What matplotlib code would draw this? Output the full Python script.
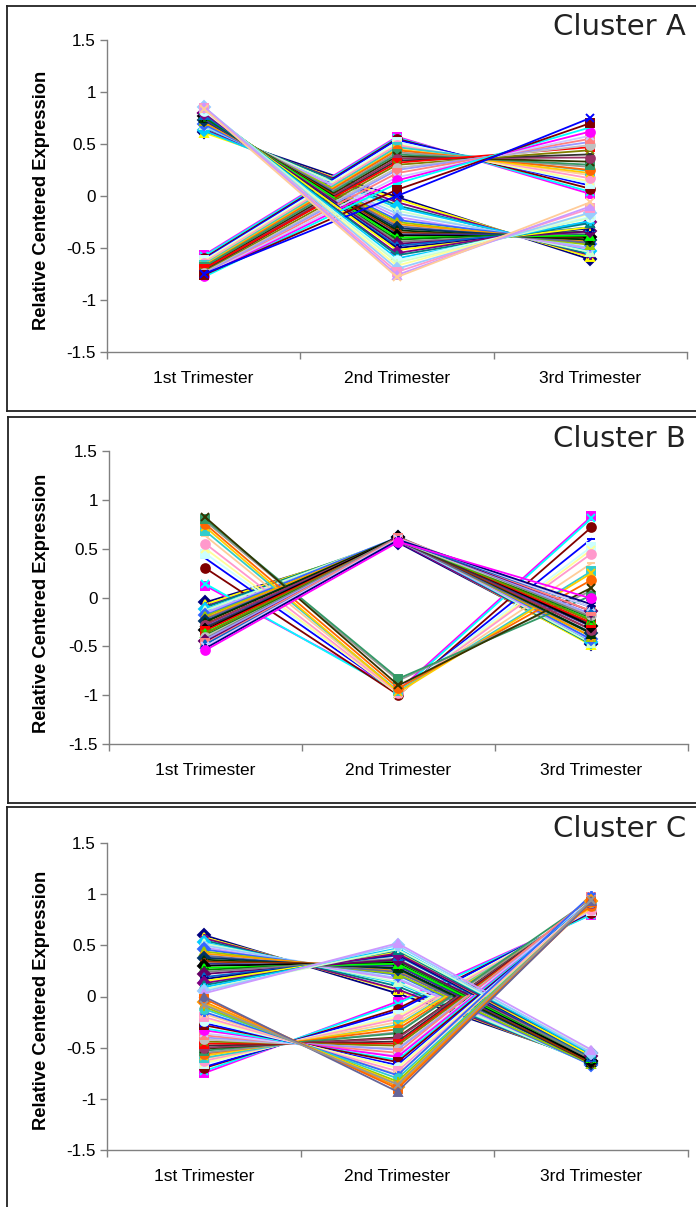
import matplotlib
matplotlib.use("Agg")
import matplotlib.pyplot as plt
from matplotlib.lines import Line2D
import numpy as np

# ---------------- data ----------------
trimesters = ["1st Trimester", "2nd Trimester", "3rd Trimester"]
y_ticks = [-1.5, -1, -0.5, 0, 0.5, 1, 1.5]
y_tick_labels = ["-1.5", "-1", "-0.5", "0", "0.5", "1", "1.5"]
cluster_names = ["Cluster A", "Cluster B", "Cluster C"]

# Cluster A - genes falling from 1st trimester
A_fall_t1 = [0.62, 0.61, 0.64, 0.66, 0.63, 0.68, 0.67, 0.70, 0.69, 0.72, 0.71, 0.74, 0.73, 0.75, 0.76, 0.74, 0.77,
             0.78, 0.76, 0.79, 0.80, 0.78, 0.81, 0.82, 0.80, 0.83, 0.84, 0.82, 0.85, 0.84, 0.86, 0.85, 0.86, 0.84]
A_fall_t2 = [-0.01, -0.03, -0.06, -0.09, -0.11, -0.14, -0.17, -0.20, -0.23, -0.25, -0.27, -0.29, -0.31, -0.33, -0.35,
             -0.37, -0.38, -0.40, -0.42, -0.44, -0.46, -0.48, -0.50, -0.52, -0.55, -0.57, -0.60, -0.62, -0.64, -0.67,
             -0.70, -0.73, -0.76, -0.78]
A_fall_t3 = [-0.61, -0.59, -0.57, -0.56, -0.53, -0.54, -0.50, -0.51, -0.46, -0.47, -0.44, -0.45, -0.42, -0.42, -0.40,
             -0.37, -0.39, -0.38, -0.34, -0.35, -0.34, -0.30, -0.31, -0.30, -0.25, -0.26, -0.24, -0.20, -0.21, -0.17,
             -0.16, -0.12, -0.10, -0.06]
# Cluster A - genes rising from 1st trimester
A_rise_t1 = [-0.57, -0.58, -0.60, -0.61, -0.62, -0.63, -0.64, -0.65, -0.66, -0.67, -0.68, -0.69, -0.68, -0.70, -0.71,
             -0.72, -0.70, -0.73, -0.74, -0.75, -0.76, -0.76, -0.77, -0.78, -0.76, -0.75]
A_rise_t2 = [0.57, 0.56, 0.55, 0.54, 0.52, 0.50, 0.49, 0.47, 0.47, 0.45, 0.44, 0.42, 0.40, 0.38, 0.36, 0.34, 0.32,
             0.30, 0.27, 0.25, 0.22, 0.18, 0.15, 0.12, 0.06, 0.00]
A_rise_t3 = [0.02, 0.04, 0.07, 0.10, 0.12, 0.14, 0.17, 0.20, 0.24, 0.22, 0.25, 0.28, 0.30, 0.33, 0.37, 0.40, 0.47,
             0.44, 0.49, 0.52, 0.55, 0.58, 0.62, 0.66, 0.70, 0.75]

# Cluster B - peak in 2nd trimester
B_peak_t1 = [-0.05, -0.07, -0.09, -0.10, -0.12, -0.13, -0.15, -0.16, -0.18, -0.19, -0.21, -0.22, -0.24, -0.25, -0.27,
             -0.28, -0.30, -0.31, -0.33, -0.34, -0.36, -0.37, -0.39, -0.40, -0.42, -0.43, -0.45, -0.47, -0.48, -0.50,
             -0.52, -0.54]
B_peak_t2 = [0.56, 0.58, 0.57, 0.60, 0.59, 0.61, 0.58, 0.60, 0.62, 0.59, 0.61, 0.58, 0.60, 0.62, 0.59, 0.61, 0.60,
             0.58, 0.62, 0.60, 0.59, 0.61, 0.60, 0.58, 0.62, 0.60, 0.59, 0.61, 0.58, 0.60, 0.59, 0.57]
B_peak_t3 = [-0.48, -0.49, -0.47, -0.48, -0.46, -0.47, -0.43, -0.44, -0.43, -0.40, -0.40, -0.37, -0.36, -0.37, -0.33,
             -0.33, -0.30, -0.27, -0.29, -0.26, -0.23, -0.24, -0.21, -0.18, -0.20, -0.17, -0.14, -0.14, -0.10, -0.10,
             -0.07, -0.01]
# Cluster B - dip in 2nd trimester
B_dip_t1 = [0.12, 0.14, 0.30, 0.40, 0.45, 0.50, 0.55, 0.63, 0.68, 0.72, 0.75, 0.78, 0.80, 0.82]
B_dip_t2 = [-0.95, -0.97, -1.00, -0.98, -0.97, -0.99, -0.98, -0.97, -0.96, -0.97, -0.93, -0.85, -0.83, -0.90]
B_dip_t3 = [0.83, 0.81, 0.72, 0.60, 0.52, 0.49, 0.45, 0.35, 0.27, 0.25, 0.18, 0.07, 0.02, 0.10]

# Cluster C - high early, low in 3rd trimester
C_high_t1 = [0.60, 0.58, 0.57, 0.55, 0.53, 0.52, 0.50, 0.48, 0.46, 0.44, 0.42, 0.40, 0.38, 0.36, 0.34, 0.32, 0.30,
             0.28, 0.26, 0.24, 0.22, 0.19, 0.17, 0.15, 0.13, 0.11, 0.09, 0.07, 0.05, 0.03]
C_high_t2 = [0.03, 0.06, 0.07, 0.10, 0.13, 0.14, 0.18, 0.17, 0.21, 0.22, 0.25, 0.24, 0.27, 0.28, 0.31, 0.30, 0.33,
             0.32, 0.35, 0.37, 0.36, 0.40, 0.41, 0.43, 0.42, 0.45, 0.47, 0.46, 0.50, 0.52]
C_high_t3 = [-0.63, -0.64, -0.64, -0.65, -0.66, -0.66, -0.65, -0.65, -0.67, -0.66, -0.64, -0.64, -0.65, -0.64, -0.65,
             -0.62, -0.63, -0.60, -0.61, -0.61, -0.58, -0.59, -0.58, -0.58, -0.55, -0.56, -0.56, -0.53, -0.55, -0.52]
# Cluster C - low early, high in 3rd trimester
C_low_t1 = [-0.75, -0.73, -0.70, -0.69, -0.66, -0.65, -0.63, -0.61, -0.60, -0.58, -0.56, -0.55, -0.53, -0.51, -0.50,
            -0.48, -0.46, -0.44, -0.42, -0.40, -0.38, -0.36, -0.33, -0.31, -0.28, -0.26, -0.24, -0.22, -0.20, -0.17,
            -0.15, -0.12, -0.10, -0.07, -0.05, -0.02, 0.00, -0.08]
C_low_t2 = [-0.05, -0.07, -0.12, -0.14, -0.18, -0.20, -0.22, -0.25, -0.28, -0.29, -0.32, -0.35, -0.36, -0.40, -0.41,
            -0.44, -0.46, -0.48, -0.51, -0.52, -0.55, -0.58, -0.59, -0.62, -0.64, -0.67, -0.69, -0.70, -0.73, -0.76,
            -0.77, -0.80, -0.83, -0.85, -0.88, -0.90, -0.93, -0.86]
C_low_t3 = [0.80, 0.80, 0.82, 0.83, 0.84, 0.85, 0.85, 0.86, 0.88, 0.87, 0.88, 0.90, 0.95, 0.91, 0.91, 0.92, 0.92,
            0.92, 0.93, 0.92, 0.97, 0.94, 0.92, 0.93, 0.92, 0.93, 0.93, 0.92, 0.93, 0.93, 0.99, 0.92, 0.93, 0.92,
            0.93, 0.92, 0.93, 0.94]

# ---------------- style ----------------
palette = ['#000080', '#FF00FF', '#FFFF00', '#00FFFF', '#800080', '#800000', '#008080', '#0000FF',
           '#00CCFF', '#CCFFFF', '#CCFFCC', '#FFFF99', '#99CCFF', '#FF99CC', '#CC99FF', '#FFCC99',
           '#3366FF', '#33CCCC', '#99CC00', '#FFCC00', '#FF9900', '#FF6600', '#666699', '#969696',
           '#003366', '#339966', '#003300', '#333300', '#993300', '#993366', '#333399', '#333333',
           '#000000', '#FF0000', '#00FF00', '#808000', '#008000', '#C0C0C0', '#808080', '#9999FF',
           '#660066', '#FF8080', '#0066CC', '#CCCCFF']
markers = ['D', 's', '^', 'x', (6, 2, 0), 'o', '+', '_']

W, H = 696, 1207
fig = plt.figure(figsize=(W / 100, H / 100), dpi=100)


def fx(px):
    return px / W


def fy(py):
    return 1 - py / H


def interleave(g1, g2):
    out = []
    n = max(len(g1), len(g2))
    for i in range(n):
        if i < len(g1):
            out.append(g1[i])
        if i < len(g2):
            out.append(g2[i])
    return out


panels = [
    dict(name=cluster_names[0], ax=(107, 687, 40, 352), box=(7, 6, 411), title_y=35, ylab_y=200,
         g1=(A_fall_t1, A_fall_t2, A_fall_t3), g2=(A_rise_t1, A_rise_t2, A_rise_t3)),
    dict(name=cluster_names[1], ax=(109, 688, 451, 744), box=(8, 417, 803), title_y=447, ylab_y=603,
         g1=(B_peak_t1, B_peak_t2, B_peak_t3), g2=(B_dip_t1, B_dip_t2, B_dip_t3)),
    dict(name=cluster_names[2], ax=(107, 688, 843, 1150), box=(7, 807, 1210), title_y=837, ylab_y=1000,
         g1=(C_high_t1, C_high_t2, C_high_t3), g2=(C_low_t1, C_low_t2, C_low_t3)),
]

xpos = np.arange(1, len(trimesters) + 1)
axis_color = '#808080'

for p in panels:
    l, r, t, b = p['ax']
    ax = fig.add_axes([fx(l), fy(b), fx(r - l), (b - t) / H])
    s1 = list(zip(*p['g1']))
    s2 = list(zip(*p['g2']))
    series = interleave(s1, s2)
    for i, vals in enumerate(series):
        c = palette[i % len(palette)]
        m = markers[i % len(markers)]
        ax.plot(xpos, vals, color=c, lw=1.3, marker=m, markersize=6.3,
                markerfacecolor=c, markeredgecolor=c, markeredgewidth=1.4, clip_on=False)
    ax.set_xlim(0.5, len(trimesters) + 0.5)
    ax.set_ylim(-1.5, 1.5)
    ax.set_yticks(y_ticks)
    ax.set_yticklabels(y_tick_labels, fontsize=12.3, family='Liberation Sans')
    ax.set_xticks(xpos)
    ax.set_xticklabels(trimesters, fontsize=12.5, family='Liberation Sans')
    ax.set_xticks(np.arange(0.5, len(trimesters) + 1, 1.0), minor=True)
    ax.tick_params(axis='x', which='major', length=0, pad=14)
    ax.tick_params(axis='x', which='minor', length=5, width=1, color=axis_color, direction='out')
    ax.tick_params(axis='y', length=5, width=1, color=axis_color, direction='out', pad=3)
    for sp in ['top', 'right']:
        ax.spines[sp].set_visible(False)
    for sp in ['left', 'bottom']:
        ax.spines[sp].set_color(axis_color)
        ax.spines[sp].set_linewidth(1.0)
    ax.set_facecolor('none')

    # y label
    fig.text(fx(42), fy(p['ylab_y']), 'Relative Centered Expression', rotation=90,
             ha='center', va='center', fontsize=13.2, fontweight='bold', family='Liberation Sans')
    # cluster title
    fig.text(fx(686), fy(p['title_y']), p['name'], ha='right', va='baseline', fontsize=21,
             family='DejaVu Sans', color='#222222')
    # panel border
    bx, btop, bbot = p['box']
    kw = dict(color='#222222', lw=1.3, transform=fig.transFigure)
    fig.add_artist(Line2D([fx(bx), fx(bx)], [fy(btop), fy(bbot)], **kw))
    fig.add_artist(Line2D([fx(bx), 1.0], [fy(btop), fy(btop)], **kw))
    if bbot < H:
        fig.add_artist(Line2D([fx(bx), 1.0], [fy(bbot), fy(bbot)], **kw))

fig.savefig('out.png', dpi=100)
